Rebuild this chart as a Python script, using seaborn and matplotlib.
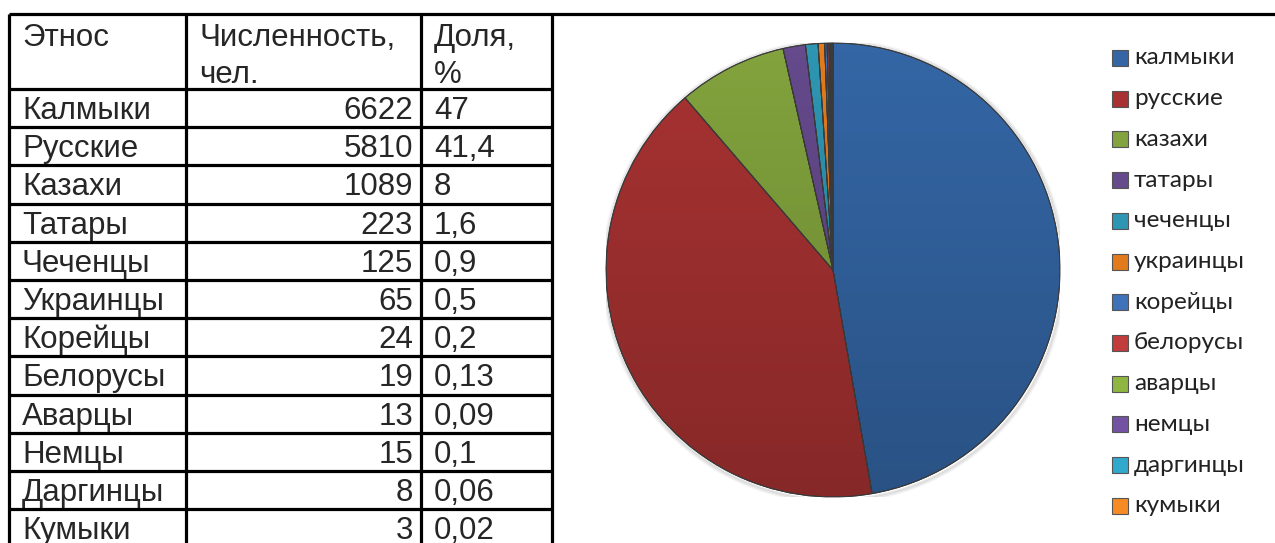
import numpy as np
import matplotlib.pyplot as plt
import seaborn as sns
from matplotlib.patches import Rectangle, Circle, Wedge

# ==========================================
# Данные
# ==========================================
ethnos = ['Калмыки', 'Русские', 'Казахи', 'Татары', 'Чеченцы', 'Украинцы',
          'Корейцы', 'Белорусы', 'Аварцы', 'Немцы', 'Даргинцы', 'Кумыки']
counts = [6622, 5810, 1089, 223, 125, 65, 24, 19, 13, 15, 8, 3]
shares = ['47', '41,4', '8', '1,6', '0,9', '0,5', '0,2', '0,13', '0,09', '0,1', '0,06', '0,02']
legend_labels = [e.lower() for e in ethnos]
header = [['Этнос', ''], ['Численность,', 'чел.'], ['Доля,', '%']]

# палитра в стиле Excel 2007
colors = ['#3466A5', '#A83232', '#82A33D', '#654A8C', '#2E96B2', '#E27B1E',
          '#3F72B9', '#C23B3D', '#8FB640', '#7352A4', '#31A9CC', '#F68B25']

sns.set_theme(style="white")
plt.rcParams['font.family'] = ['Liberation Sans', 'DejaVu Sans']

W, H = 1275, 543
fig = plt.figure(figsize=(W / 100, H / 100), dpi=100)

# слой в пиксельных координатах для таблицы и легенды
ov = fig.add_axes([0, 0, 1, 1])
ov.set_xlim(0, W)
ov.set_ylim(H, 0)
ov.axis('off')

# ---------- таблица ----------
lw = 2.3
top, head_bot, row_h = 14, 89, 38.2
cols = [9, 186, 421, 552]
ov.hlines(top, cols[0], W, color='black', lw=lw)
for i in range(len(ethnos) + 1):
    y = head_bot + i * row_h
    ov.hlines(y, cols[0], cols[-1], color='black', lw=lw)
ov.vlines(cols, top, H + 5, color='black', lw=lw)

fs = 22.5
for c, (l1, l2) in enumerate(header):
    ov.text(cols[c] + 13, 46, l1, fontsize=fs, va='baseline', ha='left')
    ov.text(cols[c] + 13, 83, l2, fontsize=fs, va='baseline', ha='left')

for i, (e, n, s) in enumerate(zip(ethnos, counts, shares)):
    yb = head_bot + i * row_h + 30
    ov.text(cols[0] + 13, yb, e, fontsize=fs, va='baseline', ha='left')
    ov.text(cols[2] - 8, yb, str(n), fontsize=fs, va='baseline', ha='right')
    ov.text(cols[2] + 13, yb, s, fontsize=fs, va='baseline', ha='left')

# ---------- легенда ----------
for i, (lab, col) in enumerate(zip(legend_labels, colors)):
    yc = 58 + i * 40.7
    ov.add_patch(Rectangle((1112, yc - 8), 16, 16, facecolor=col,
                           edgecolor='#555555', lw=0.8))
    ov.text(1134, yc, lab, fontsize=17.5, va='center', ha='left',
            family=['Lato', 'DejaVu Sans'], color='#222222')

# ---------- круговая диаграмма ----------
cx, cy, r = 833, 270, 227
ax = fig.add_axes([(cx - r) / W, (H - cy - r) / H, 2 * r / W, 2 * r / H])
ax.set_xlim(-1, 1)
ax.set_ylim(-1, 1)
ax.axis('off')

# мягкая тень
for k, a in enumerate([0.10, 0.07, 0.04]):
    ax.add_patch(Circle((0.004, -0.006), 1 + 0.006 * (k + 1), facecolor='none',
                        edgecolor='black', lw=1.5, alpha=a, zorder=0))

wedges, _ = ax.pie(counts, colors=colors, startangle=90, counterclock=False,
                   radius=1, wedgeprops=dict(edgecolor='#3a3a3a', linewidth=0.7))

# вертикальный градиент затемнения
grad = np.zeros((256, 1, 4))
grad[..., 3] = np.linspace(0, 0.2, 256)[:, None]
im = ax.imshow(grad, extent=(-1, 1, -1, 1), origin='upper', aspect='auto', zorder=3)
im.set_clip_path(Circle((0, 0), 1, transform=ax.transData))
for w in wedges:
    ax.add_patch(Wedge((0, 0), 1, w.theta1, w.theta2, facecolor='none',
                       edgecolor='#3a3a3a', lw=0.7, zorder=4))
ax.set_xlim(-1, 1)
ax.set_ylim(-1, 1)

fig.savefig('out.png', dpi=100)
